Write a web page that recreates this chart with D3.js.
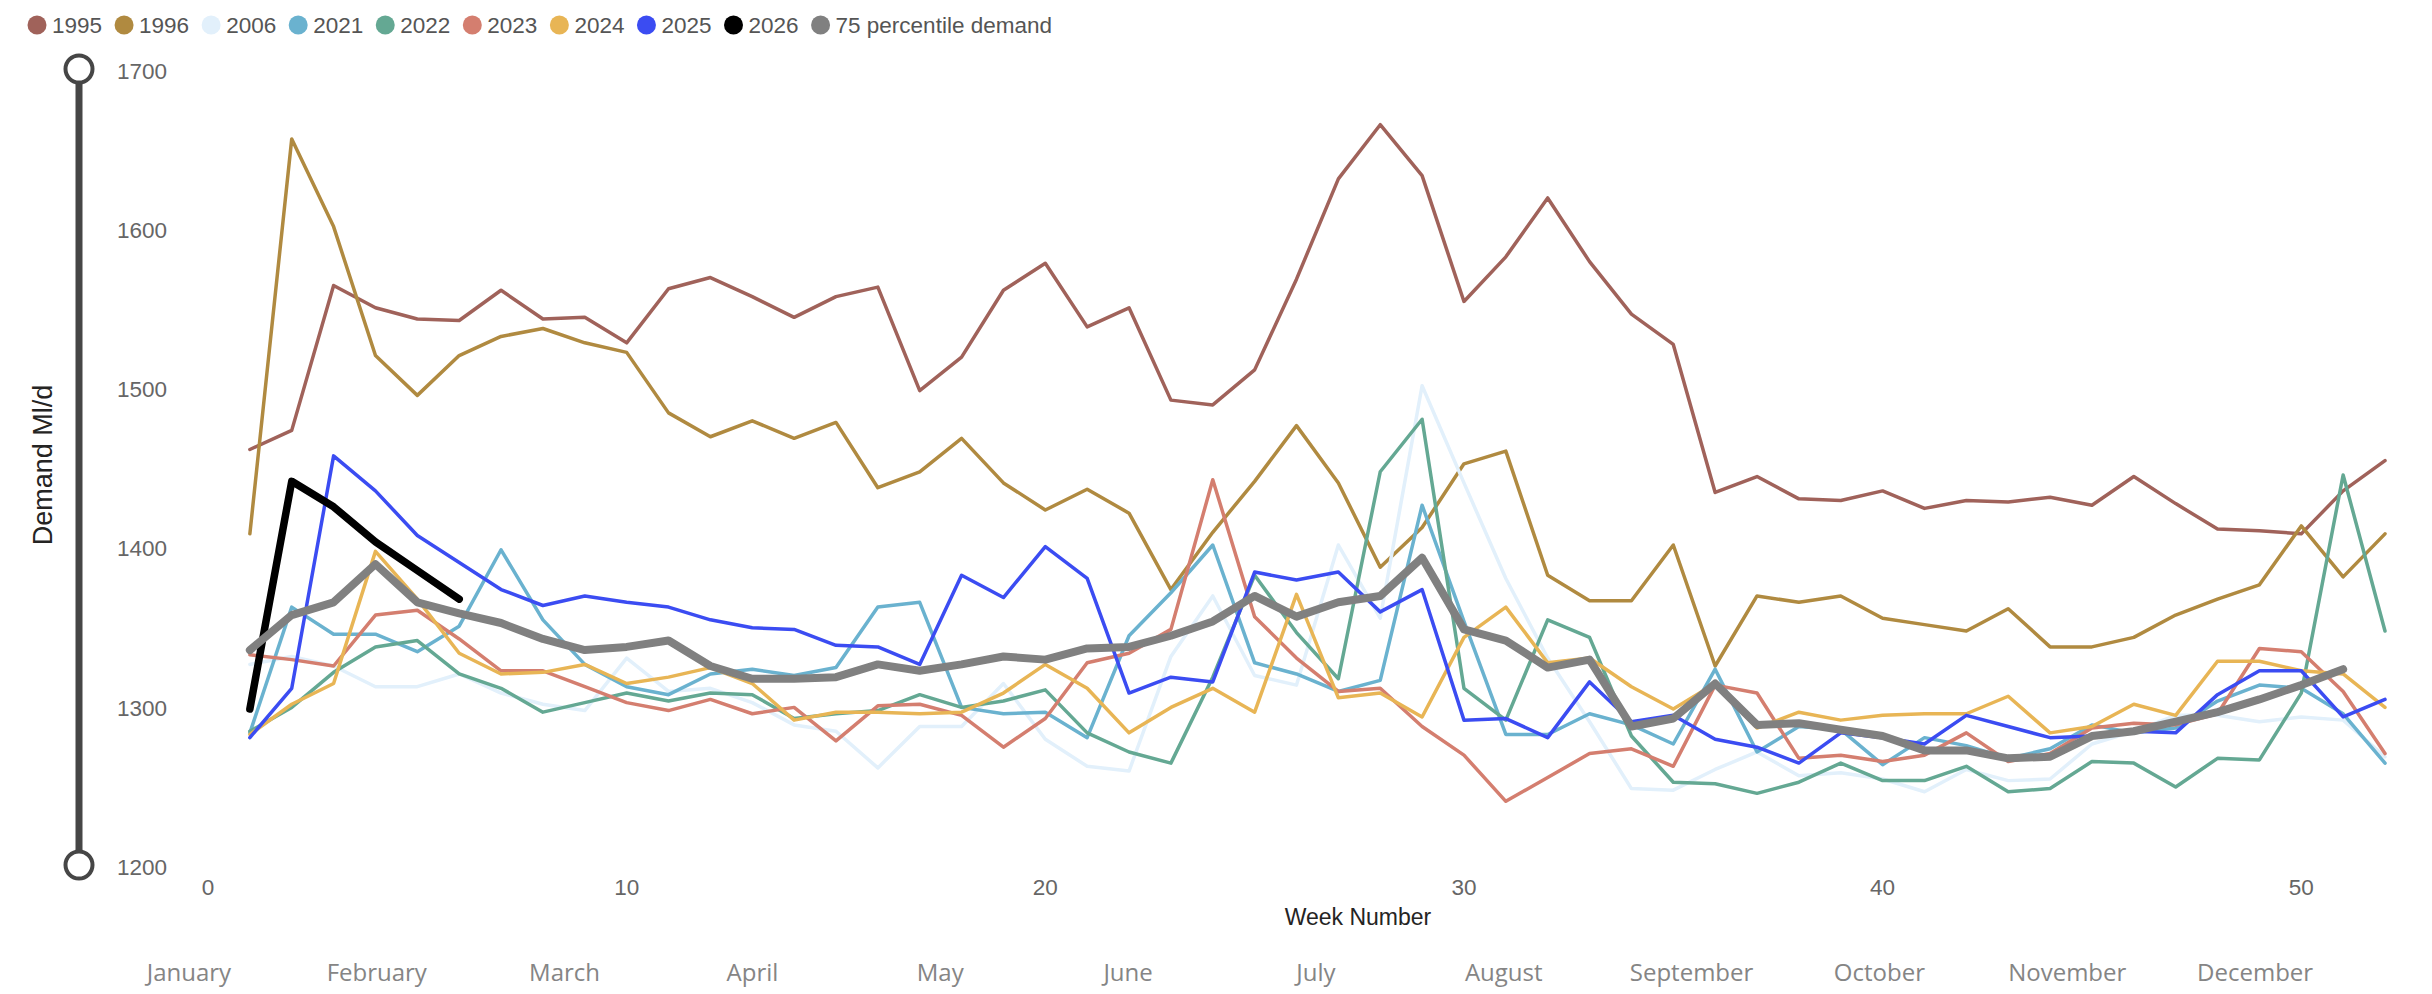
<!DOCTYPE html>
<html>
<head>
<meta charset="utf-8">
<script src="https://cdn.jsdelivr.net/npm/d3@7"></script>
<style>
  body { margin: 0; background: #fff; }
</style>
</head>
<body>
<svg id="chart"></svg>
<script>
const weeks = [1, 2, 3, 4, 5, 6, 7, 8, 9, 10, 11, 12, 13, 14, 15, 16, 17, 18, 19, 20, 21, 22, 23, 24, 25, 26,
  27, 28, 29, 30, 31, 32, 33, 34, 35, 36, 37, 38, 39, 40, 41, 42, 43, 44, 45, 46, 47, 48, 49, 50, 51, 52];

const d1995 = [1461, 1473, 1564, 1550, 1543, 1542, 1561, 1543, 1544, 1528, 1562, 1569, 1557, 1544, 1557, 1563, 1498, 1519, 1561, 1578,
  1538, 1550, 1492, 1489, 1511, 1568, 1631, 1665, 1633, 1554, 1582, 1619, 1579, 1546, 1527, 1434, 1444, 1430, 1429, 1435,
  1424, 1429, 1428, 1431, 1426, 1444, 1427, 1411, 1410, 1408, 1435, 1454];
const d1996 = [1408, 1656, 1601, 1520, 1495, 1520, 1532, 1537, 1528, 1522, 1484, 1469, 1479, 1468, 1478, 1437, 1447, 1468, 1440, 1423,
  1436, 1421, 1373, 1409, 1441, 1476, 1440, 1387, 1412, 1452, 1460, 1382, 1366, 1366, 1401, 1325, 1369, 1365, 1369, 1355,
  1351, 1347, 1361, 1337, 1337, 1343, 1357, 1367, 1376, 1413, 1381, 1408];
const d2006 = [1326, 1331, 1325, 1312, 1312, 1320, 1308, 1301, 1297, 1330, 1309, 1311, 1302, 1288, 1284, 1261, 1287, 1287, 1314, 1279,
  1262, 1259, 1331, 1369, 1319, 1313, 1401, 1355, 1501, 1440, 1380, 1330, 1290, 1248, 1247, 1260, 1271, 1256, 1258, 1254,
  1246, 1260, 1253, 1254, 1276, 1284, 1294, 1294, 1290, 1293, 1291, 1268];
const d2021 = [1283, 1362, 1345, 1345, 1334, 1350, 1398, 1354, 1326, 1312, 1307, 1320, 1323, 1319, 1324, 1362, 1365, 1299, 1295, 1296,
  1280, 1344, 1371, 1401, 1327, 1320, 1309, 1316, 1426, 1353, 1282, 1282, 1295, 1288, 1276, 1323, 1271, 1287, 1285, 1263,
  1280, 1275, 1267, 1273, 1288, 1283, 1286, 1303, 1313, 1311, 1295, 1264];
const d2022 = [1284, 1299, 1321, 1337, 1341, 1320, 1311, 1296, 1302, 1308, 1303, 1308, 1307, 1292, 1295, 1297, 1307, 1299, 1303, 1310,
  1283, 1271, 1264, 1318, 1382, 1346, 1317, 1447, 1480, 1311, 1291, 1354, 1343, 1281, 1252, 1251, 1245, 1252, 1264, 1253,
  1253, 1262, 1246, 1248, 1265, 1264, 1249, 1267, 1266, 1308, 1445, 1347];
const d2023 = [1332, 1329, 1325, 1357, 1360, 1342, 1322, 1322, 1312, 1302, 1297, 1304, 1295, 1299, 1278, 1300, 1301, 1294, 1274, 1292,
  1327, 1333, 1348, 1442, 1356, 1330, 1309, 1311, 1287, 1269, 1240, 1255, 1270, 1273, 1262, 1313, 1308, 1267, 1269, 1265,
  1269, 1283, 1265, 1270, 1286, 1289, 1288, 1295, 1336, 1334, 1309, 1270];
const d2024 = [1282, 1301, 1314, 1397, 1367, 1333, 1320, 1321, 1326, 1314, 1318, 1324, 1314, 1291, 1296, 1296, 1295, 1296, 1308, 1326,
  1311, 1283, 1299, 1311, 1296, 1370, 1305, 1308, 1293, 1343, 1362, 1327, 1330, 1312, 1298, 1314, 1286, 1296, 1291, 1294,
  1295, 1295, 1306, 1283, 1287, 1301, 1294, 1328, 1328, 1322, 1320, 1299];
const d2025 = [1280, 1311, 1457, 1435, 1407, 1390, 1373, 1363, 1369, 1365, 1362, 1354, 1349, 1348, 1338, 1337, 1326, 1382, 1368, 1400,
  1380, 1308, 1318, 1315, 1384, 1379, 1384, 1359, 1373, 1291, 1292, 1280, 1315, 1290, 1294, 1279, 1274, 1264, 1283, 1280,
  1276, 1294, 1287, 1280, 1281, 1284, 1283, 1307, 1322, 1322, 1293, 1304];
const d2026 = [1298, 1441, 1425, 1403, 1385, 1367];
const p75 = [1335, 1357, 1365, 1389, 1365, 1358, 1352, 1342, 1335, 1337, 1341, 1325, 1317, 1317, 1318, 1326, 1322, 1326, 1331, 1329,
  1336, 1337, 1344, 1353, 1369, 1356, 1365, 1369, 1393, 1348, 1341, 1324, 1329, 1287, 1292, 1314, 1288, 1289, 1285, 1281,
  1272, 1272, 1267, 1268, 1281, 1284, 1290, 1296, 1304, 1313, 1323];

const seriesNames = ['1995', '1996', '2006', '2021', '2022', '2023', '2024', '2025', '2026', '75 percentile demand'];
const seriesValues = [d1995, d1996, d2006, d2021, d2022, d2023, d2024, d2025, d2026, p75];
const seriesColors = ['#a0625a', '#b08a40', '#e2f0fb', '#6ab2cf', '#64a893', '#d47e6f', '#e8b555', '#3b4cf2', '#000000', '#808080'];
const seriesWidths = [3.5, 3.5, 3.5, 3.5, 3.5, 3.5, 3.5, 3.5, 7.5, 8];

const months = ['January', 'February', 'March', 'April', 'May', 'June', 'July', 'August',
  'September', 'October', 'November', 'December'];
const yTicks = [1200, 1300, 1400, 1500, 1600, 1700];
const xTicks = [0, 10, 20, 30, 40, 50];

const width = 2432, height = 994;
const font = '"Liberation Sans", Arial, sans-serif';

const svg = d3.select('#chart')
  .attr('width', width)
  .attr('height', height)
  .style('display', 'block');

const x = d3.scaleLinear().domain([0, 52]).range([208, 2385]);
const y = d3.scaleLinear().domain([1200, 1700]).range([865, 69]);
const monthScale = d3.scaleBand().domain(months).range([95, 2349]);

// y axis: slider-like bar with circles at both ends
const yAxis = svg.append('g').attr('transform', 'translate(79,0)');
yAxis.append('line')
  .attr('y1', y(1700)).attr('y2', y(1200))
  .attr('stroke', '#464646').attr('stroke-width', 7);
[1700, 1200].forEach(v => {
  yAxis.append('circle')
    .attr('cy', y(v)).attr('r', 13.5)
    .attr('fill', '#fff').attr('stroke', '#464646').attr('stroke-width', 4);
});
svg.append('g').selectAll('text')
  .data(yTicks)
  .join('text')
  .attr('x', 117)
  .attr('y', d => y(d) + 2)
  .attr('dy', '0.35em')
  .attr('font-family', font)
  .attr('font-size', 22.5)
  .attr('fill', '#666')
  .text(d => d);

// x tick labels
svg.append('g').selectAll('text')
  .data(xTicks)
  .join('text')
  .attr('x', d => x(d))
  .attr('y', 887)
  .attr('dy', '0.35em')
  .attr('text-anchor', 'middle')
  .attr('font-family', font)
  .attr('font-size', 22.5)
  .attr('fill', '#666')
  .text(d => d);

svg.append('text')
  .attr('x', 1358).attr('y', 917).attr('dy', '0.35em')
  .attr('text-anchor', 'middle')
  .attr('font-family', font)
  .attr('font-size', 23)
  .attr('fill', '#252423')
  .text('Week Number');

svg.append('text')
  .attr('transform', 'translate(43,465) rotate(-90)')
  .attr('dy', '0.35em')
  .attr('text-anchor', 'middle')
  .attr('font-family', font)
  .attr('font-size', 27)
  .attr('fill', '#252423')
  .text('Demand Ml/d');

// month labels
svg.append('g').selectAll('text')
  .data(months)
  .join('text')
  .attr('x', d => monthScale(d) + monthScale.bandwidth() / 2)
  .attr('y', 973)
  .attr('dy', '0.35em')
  .attr('text-anchor', 'middle')
  .attr('font-family', '"Open Sans", sans-serif')
  .attr('font-size', 24)
  .attr('fill', '#858585')
  .text(d => d);

// lines
const line = d3.line()
  .x((d, i) => x(weeks[i]))
  .y(d => y(d));

svg.append('g').selectAll('path')
  .data(seriesValues)
  .join('path')
  .attr('fill', 'none')
  .attr('stroke', (d, i) => seriesColors[i])
  .attr('stroke-width', (d, i) => seriesWidths[i])
  .attr('stroke-linejoin', 'round')
  .attr('stroke-linecap', 'round')
  .attr('d', line);

// legend
const legend = svg.append('g');
let lx = 37;
seriesNames.forEach((name, i) => {
  legend.append('circle')
    .attr('cx', lx).attr('cy', 25).attr('r', 9.5)
    .attr('fill', seriesColors[i]);
  const t = legend.append('text')
    .attr('x', lx + 15).attr('y', 25).attr('dy', '0.35em')
    .attr('font-family', font)
    .attr('font-size', 22.5)
    .attr('fill', '#555')
    .text(name);
  lx += 15 + t.node().getComputedTextLength() + 22;
});
</script>
</body>
</html>
